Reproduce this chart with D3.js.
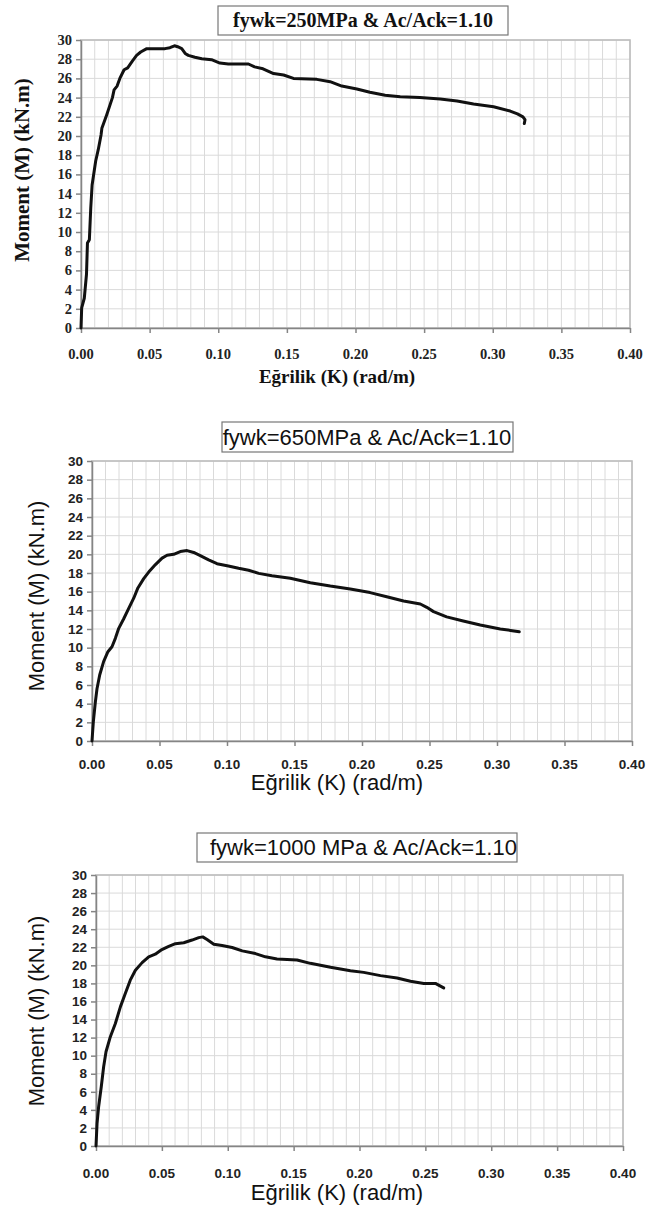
<!DOCTYPE html>
<html>
<head>
<meta charset="utf-8">
<script src="https://cdn.jsdelivr.net/npm/d3@7"></script>
<style>
  body { margin: 0; background: #fff; }
</style>
</head>
<body>
<div id="chart"></div>
<script>
// curvature K (rad/m) and moment M (kN.m)
const k250 = [0, 0.0005, 0.0024, 0.004, 0.0047, 0.0061, 0.0071, 0.0081, 0.0107, 0.0126, 0.0146, 0.0152, 0.0187, 0.0229, 0.0241, 0.0263, 0.0283, 0.0314, 0.034, 0.0374, 0.0405, 0.0435, 0.0479, 0.0539, 0.0612, 0.0648, 0.0681, 0.0704, 0.0734, 0.0759, 0.0782, 0.083, 0.088, 0.0951, 0.1012, 0.1073, 0.122, 0.1265, 0.1326, 0.1403, 0.1476, 0.1548, 0.1718, 0.1815, 0.19, 0.201, 0.2105, 0.2216, 0.2326, 0.2469, 0.2617, 0.274, 0.286, 0.3006, 0.3127, 0.318, 0.322, 0.3235, 0.323];
const m250 = [0, 2.1, 3.1, 5.6, 8.85, 9.2, 12.5, 14.9, 17.4, 18.6, 20.1, 20.8, 22.2, 24.0, 24.8, 25.2, 26.0, 26.9, 27.1, 27.8, 28.4, 28.75, 29.1, 29.1, 29.1, 29.2, 29.4, 29.3, 29.1, 28.6, 28.4, 28.2, 28.05, 27.95, 27.6, 27.5, 27.5, 27.2, 27.0, 26.5, 26.35, 26.0, 25.9, 25.66, 25.2, 24.9, 24.55, 24.24, 24.1, 24.0, 23.85, 23.65, 23.33, 23.05, 22.6, 22.3, 22.0, 21.7, 21.3];

const k650 = [0, 0.001, 0.0025, 0.0037, 0.0057, 0.0086, 0.0118, 0.0148, 0.0173, 0.0198, 0.0235, 0.0272, 0.0309, 0.034, 0.0383, 0.042, 0.047, 0.0519, 0.0556, 0.0605, 0.0654, 0.0704, 0.0753, 0.0802, 0.0864, 0.0926, 0.101, 0.1086, 0.116, 0.1235, 0.1333, 0.1469, 0.1617, 0.1765, 0.1913, 0.206, 0.2183, 0.2308, 0.2432, 0.248, 0.253, 0.2627, 0.275, 0.2876, 0.3024, 0.31, 0.3165];
const m650 = [0, 2.07, 4.2, 5.6, 7.07, 8.5, 9.57, 10.1, 11.0, 12.07, 13.1, 14.2, 15.3, 16.4, 17.4, 18.1, 18.9, 19.6, 19.9, 20.0, 20.3, 20.4, 20.2, 19.86, 19.4, 19.0, 18.75, 18.5, 18.3, 17.96, 17.7, 17.43, 16.96, 16.6, 16.29, 15.9, 15.46, 15.0, 14.68, 14.32, 13.86, 13.3, 12.86, 12.43, 12.0, 11.85, 11.7];

const k1000 = [0, 0.0008, 0.002, 0.004, 0.0058, 0.0076, 0.0109, 0.0147, 0.0185, 0.0223, 0.026, 0.0299, 0.035, 0.040, 0.045, 0.050, 0.0552, 0.0603, 0.0666, 0.0729, 0.078, 0.081, 0.0843, 0.0894, 0.0957, 0.1033, 0.111, 0.121, 0.1286, 0.1374, 0.1526, 0.1627, 0.178, 0.1931, 0.2032, 0.2159, 0.2285, 0.2387, 0.2488, 0.2576, 0.2639];
const m1000 = [0, 2.5, 4.35, 6.56, 8.77, 10.43, 12.1, 13.56, 15.4, 16.9, 18.36, 19.46, 20.3, 20.94, 21.23, 21.75, 22.1, 22.4, 22.5, 22.8, 23.07, 23.15, 22.85, 22.34, 22.19, 21.97, 21.6, 21.3, 20.94, 20.7, 20.59, 20.22, 19.78, 19.41, 19.22, 18.86, 18.6, 18.23, 18.0, 18.0, 17.5];

const xTicks = [0, 0.05, 0.10, 0.15, 0.20, 0.25, 0.30, 0.35, 0.40];
const yTicks = [0, 2, 4, 6, 8, 10, 12, 14, 16, 18, 20, 22, 24, 26, 28, 30];
const xGrid = d3.range(41).map(i => i / 100);

const titles = ['fywk=250MPa & Ac/Ack=1.10', 'fywk=650MPa & Ac/Ack=1.10', 'fywk=1000 MPa & Ac/Ack=1.10'];
const xTitle = 'Eğrilik (K) (rad/m)';
const yTitle = 'Moment (M) (kN.m)';

// panel layout (pixels) - first one is in Times, the other two in Arial
const panels = [
  { k: k250, m: m250, title: titles[0], left: 81, right: 630, top: 40, bottom: 328,
    font: 'Liberation Serif', weight: 'bold', box: [218, 6, 290, 29], titleX: 363, titleY: 27, anchor: 'middle',
    titleSize: 20, tickSize: 14.5, xLabelSize: 19, yLabelSize: 21, tickY: 359, xTitleY: 383, yTitleX: 22, yTitleY: 170 },
  { k: k650, m: m650, title: titles[1], left: 92, right: 632, top: 461, bottom: 741,
    font: 'Liberation Sans', weight: 'normal', box: [222, 422, 291, 30], titleX: 367, titleY: 445, anchor: 'middle',
    titleSize: 22, tickSize: 13.5, xLabelSize: 22, yLabelSize: 22, tickY: 769, xTitleY: 790, yTitleX: 36, yTitleY: 596 },
  { k: k1000, m: m1000, title: titles[2], left: 96, right: 623, top: 875, bottom: 1146,
    font: 'Liberation Sans', weight: 'normal', box: [197, 833, 320, 29], titleX: 210, titleY: 855, anchor: 'start',
    titleSize: 22, tickSize: 13.5, xLabelSize: 22, yLabelSize: 22, tickY: 1178, xTitleY: 1200, yTitleX: 36, yTitleY: 1011 }
];

const svg = d3.select('#chart')
  .append('svg')
  .attr('width', 667)
  .attr('height', 1207);

panels.forEach(p => {
  const x = d3.scaleLinear().domain([0, 0.4]).range([p.left, p.right]);
  const y = d3.scaleLinear().domain([0, 30]).range([p.bottom, p.top]);
  const g = svg.append('g').style('font-family', p.font);

  // title box
  g.append('rect')
    .attr('x', p.box[0]).attr('y', p.box[1])
    .attr('width', p.box[2]).attr('height', p.box[3])
    .attr('fill', '#fff')
    .attr('stroke', '#777')
    .attr('stroke-width', 1.2);

  g.append('text')
    .attr('x', p.titleX).attr('y', p.titleY)
    .attr('text-anchor', p.anchor)
    .style('font-size', p.titleSize + 'px')
    .style('font-weight', p.weight)
    .style('fill', '#111')
    .text(p.title);

  // grid
  g.append('g').selectAll('line')
    .data(xGrid)
    .enter()
    .append('line')
    .attr('x1', d => x(d)).attr('x2', d => x(d))
    .attr('y1', p.top).attr('y2', p.bottom)
    .attr('stroke', '#dadada');

  g.append('g').selectAll('line')
    .data(yTicks)
    .enter()
    .append('line')
    .attr('x1', p.left).attr('x2', p.right)
    .attr('y1', d => y(d)).attr('y2', d => y(d))
    .attr('stroke', '#dadada');

  // plot frame
  g.append('rect')
    .attr('x', p.left).attr('y', p.top)
    .attr('width', p.right - p.left).attr('height', p.bottom - p.top)
    .attr('fill', 'none')
    .attr('stroke', '#bdbdbd')
    .attr('stroke-width', 1.6);

  // axes
  const xAxis = g.append('g')
    .attr('transform', `translate(0,${p.bottom})`)
    .call(d3.axisBottom(x).tickValues(xTicks).tickFormat(d3.format('.2f')).tickSize(5).tickSizeOuter(0));
  xAxis.selectAll('text').remove();

  const yAxis = g.append('g')
    .attr('transform', `translate(${p.left},0)`)
    .call(d3.axisLeft(y).tickValues(yTicks).tickSize(5).tickSizeOuter(0));
  yAxis.selectAll('text').remove();

  [xAxis, yAxis].forEach(a => {
    a.selectAll('path, line').attr('stroke', '#858585').attr('stroke-width', 1.5);
  });

  // tick labels
  g.append('g').selectAll('text')
    .data(xTicks)
    .enter()
    .append('text')
    .attr('x', d => x(d)).attr('y', p.tickY)
    .attr('text-anchor', 'middle')
    .style('font-size', p.tickSize + 'px')
    .style('font-weight', 'bold')
    .style('fill', '#222')
    .text(d => d3.format('.2f')(d));

  g.append('g').selectAll('text')
    .data(yTicks)
    .enter()
    .append('text')
    .attr('x', p.left - 9).attr('y', d => y(d))
    .attr('dy', '0.35em')
    .attr('text-anchor', 'end')
    .style('font-size', p.tickSize + 'px')
    .style('font-weight', 'bold')
    .style('fill', '#222')
    .text(d => d);

  // axis titles
  g.append('text')
    .attr('x', 337).attr('y', p.xTitleY)
    .attr('text-anchor', 'middle')
    .style('font-size', p.xLabelSize + 'px')
    .style('font-weight', p.weight)
    .style('fill', '#111')
    .text(xTitle);

  g.append('text')
    .attr('transform', `translate(${p.yTitleX},${p.yTitleY}) rotate(-90)`)
    .attr('dy', '0.35em')
    .attr('text-anchor', 'middle')
    .style('font-size', p.yLabelSize + 'px')
    .style('font-weight', p.weight)
    .style('fill', '#111')
    .text(yTitle);

  // moment-curvature curve
  const line = d3.line()
    .x((d, i) => x(p.k[i]))
    .y(d => y(d));

  g.append('path')
    .datum(p.m)
    .attr('d', line)
    .attr('fill', 'none')
    .attr('stroke', '#111')
    .attr('stroke-width', 3)
    .attr('stroke-linejoin', 'round')
    .attr('stroke-linecap', 'round');
});
</script>
</body>
</html>
